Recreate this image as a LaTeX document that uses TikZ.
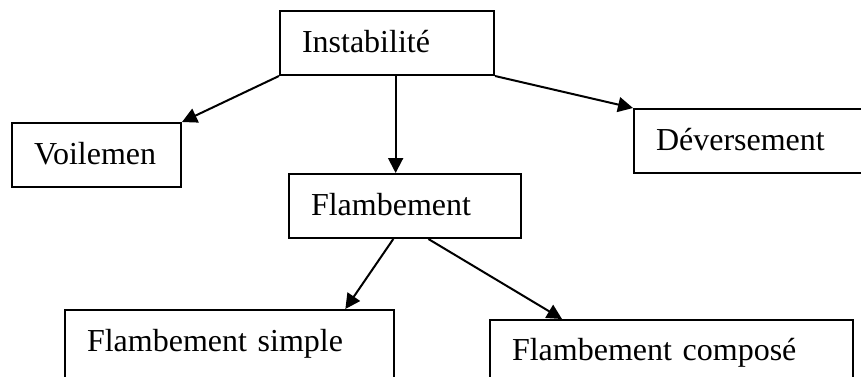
\documentclass[tikz,border=0pt]{standalone}
\usepackage{fontspec}
\setmainfont{Liberation Serif}
\usetikzlibrary{arrows.meta,calc}

\begin{document}
\begin{tikzpicture}[x=0.5pt,y=-0.5pt,
    boite/.style={draw, line width=1pt, rectangle, anchor=north west,
      inner xsep=11pt, inner ysep=9.5pt, align=left,
      text height=11pt, text depth=2pt,
      font=\fontsize{16}{18}\selectfont},
    fleche/.style={line width=1pt, -{Triangle[length=7.5pt,width=7.5pt]}}]
  \useasboundingbox (0,0) rectangle (861,376);
  \clip (0,0) rectangle (861,376);

  % top level
  \node[boite, text width=85pt] (inst) at (279,10) {Instabilit\'e};

  % second level
  \node[boite, text width=62.5pt] (voil) at (11,122) {Voilemen};
  \node[boite, text width=101.5pt] (dev) at (633,108) {D\'eversement};
  \node[boite, text width=94pt] (flamb) at (288,173) {Flambement};

  % bottom boxes run past the lower edge
  \node[boite, text width=142.5pt, text depth=25pt] (simple) at (64,309) {Flambement simple};
  \node[boite, text width=159.5pt, text depth=25pt, inner ysep=9pt] (compose) at (489,319) {Flambement compos\'e};

  % arrows from Instabilite
  \draw[fleche] (inst.south west) -- (voil.north east);
  \draw[fleche] (inst.south east) -- (dev.north west);
  \coordinate (c1) at ($(inst.south west)!0.54!(inst.south east)$);
  \draw[fleche] (c1) -- (c1 |- flamb.north);

  % arrows from Flambement
  \draw[fleche] ($(flamb.south west)!0.45!(flamb.south east)$) -- ($(simple.north west)!0.85!(simple.north east)$);
  \draw[fleche] ($(flamb.south west)!0.6!(flamb.south east)$) -- ($(compose.north west)!0.2!(compose.north east)$);
\end{tikzpicture}
\end{document}
